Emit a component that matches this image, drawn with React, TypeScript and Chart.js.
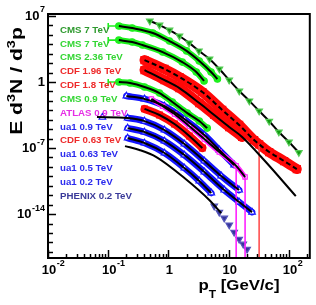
import React, { useEffect, useRef } from "react";
import { Chart, registerables } from "chart.js";

Chart.register(...registerables);

// ---------- axis ranges & ticks ----------
const xRange = [0.01, 222];
const yRange = [2.2e-19, 1.63e7];
const xLabelExps = [-2, -1, 0, 1, 2];
const yLabelExps = [7, 0, -7, -14];
const yDecadeExps = [-18, -17, -16, -15, -14, -13, -12, -11, -10, -9, -8, -7, -6, -5, -4, -3, -2, -1, 0, 1, 2, 3, 4, 5, 6, 7];
const xDecadeExps = [-2, -1, 0, 1, 2];

// ---------- legend ----------
const legendNames = [
  "CMS 7 TeV", "CMS 7 TeV", "CMS 2.36 TeV", "CDF 1.96 TeV", "CDF 1.8 TeV", "CMS 0.9 TeV",
  "ATLAS 0.9 TeV", "ua1 0.9 TeV", "CDF 0.63 TeV", "ua1 0.63 TeV", "ua1 0.5 TeV", "ua1 0.2 TeV", "PHENIX 0.2 TeV",
];
const legendColors = [
  "#2f9a2f", "#33d633", "#33d633", "#ee2a2a", "#ee2a2a", "#33d633",
  "#e62ee6", "#2a2aee", "#ee2a2a", "#2a2aee", "#2a2aee", "#2a2aee", "#3a3a9a",
];

// ---------- data (pT in GeV/c, E d3N/d3p) ----------
const cms7hiPt = [0.49, 0.71, 1.04, 1.52, 2.2, 3.2, 4.8, 7.0, 10.2, 15, 22, 32, 47, 68, 100, 146];
const cms7hiVal = [3e6, 1.1e6, 3.2e5, 7.6e4, 1.4e4, 2e3, 2.8e2, 24, 1.6, 0.11, 1e-2, 8.5e-4, 7e-5, 5e-6, 4.4e-7, 3.4e-8];

const cms7Pt = [0.15, 0.25, 0.55, 1.04, 2.0, 3.25, 5.1, 6.5];
const cms7Val = [8.7e5, 5.3e5, 1.6e5, 2.2e4, 2e3, 1.7e2, 11.5, 2.1];

const cms236Pt = [0.15, 0.25, 0.37, 0.8, 1.7, 2.9, 3.9];
const cms236Val = [2.8e4, 1.75e4, 8.4e3, 1.5e3, 1.3e2, 11.5, 1.3];

const cms09Pt = [0.15, 0.23, 0.4, 0.71, 1.16, 2.06, 3.25, 4.4];
const cms09Val = [1.0, 0.78, 0.3, 0.068, 7.6e-3, 5.1e-4, 7.3e-5, 1.3e-5];

const cmsBinLow = 0.1;
const cmsBinHigh = 0.2;

const cdf196Pt = [0.4, 0.86, 1.52, 3.65, 7.8, 14.9, 26.4, 32, 47, 83, 135];
const cdf196Val = [210, 24, 3.4, 8.7e-2, 1.1e-3, 2.8e-5, 7e-7, 2.5e-7, 3.8e-8, 4.2e-9, 5.9e-10];
const cdf196OpenPt = 32;

const cdf18Pt = [0.4, 0.86, 1.52, 3.25, 5.75, 10.2, 16.7];
const cdf18Val = [18.6, 1.6, 0.23, 5.9e-3, 3.2e-4, 1.7e-5, 1.5e-6];
const cdf18FitPt = [0.4, 0.86, 1.52, 3.25, 5.75, 10.2, 16.7, 38.6, 130];
const cdf18FitVal = [18.6, 1.6, 0.23, 5.9e-3, 3.2e-4, 1.7e-5, 1.5e-6, 5.4e-9, 8e-13];

const atlasPt = [0.52, 0.8, 1.26, 2.22, 3.94, 6.97, 13.3, 18.7];
const atlasVal = [1.6e-2, 2.8e-3, 4.1e-4, 2.1e-5, 9e-7, 3.8e-8, 1.3e-9, 8.5e-11];
const atlasOpenPt = [13.3, 18.7];

const ua109Pt = [0.2, 0.4, 0.86, 1.84, 3.94, 6.97, 12.3];
const ua109Val = [3.3e-2, 1.6e-2, 2.8e-3, 1.2e-4, 2.4e-6, 6.2e-8, 1.6e-9];

const cdf063Pt = [0.4, 0.71, 1.26, 2.22, 3.65];
const cdf063Val = [1.4e-3, 3.2e-4, 3.5e-5, 1.9e-6, 1e-7];

const ua1063Pt = [0.08, 0.21, 0.4, 0.86, 1.84, 3.94, 7.5, 14.9];
const ua1063Val = [1.8e-4, 1.5e-4, 7.2e-5, 8.1e-6, 2.7e-7, 4.2e-9, 1.1e-10, 3.5e-12];
const ua1063FitPt = [0.065, 0.21, 0.4, 0.86, 1.84, 3.94, 7.5, 14.9];
const ua1063FitVal = [1.9e-4, 1.5e-4, 7.2e-5, 8.1e-6, 2.7e-7, 4.2e-9, 1.1e-10, 3.5e-12];

const ua105Pt = [0.21, 0.4, 0.86, 1.84, 3.94, 8.43, 14.9, 24.4];
const ua105Val = [1.3e-5, 5e-6, 5.5e-7, 1.8e-8, 2.9e-10, 3.5e-12, 1.9e-13, 1.6e-14];

const ua102Pt = [0.21, 0.4, 0.86, 1.84, 3.25, 5.14];
const ua102Val = [1.15e-6, 3.4e-7, 3e-8, 7.6e-10, 3.2e-11, 1.7e-12];

const phenixFitPt = [0.19, 0.33, 0.63, 1.84, 4.76, 7.5];
const phenixFitVal = [1.6e-7, 6.2e-8, 1.1e-8, 6.6e-11, 3.1e-13, 1.3e-14];
const phenixPt = [5.75, 6.97, 8.43, 10.2, 12.3, 14.9, 17.4, 20.2];
const phenixVal = [7e-14, 1.6e-14, 3.8e-15, 6.9e-16, 1.2e-16, 2.2e-17, 6.6e-18, 1.9e-18];

// ---------- styling ----------
const FONT = '"Liberation Sans", Arial, Helvetica, sans-serif';
const GREEN = "#1ef01e";
const DKGREEN = "#119911";
const RED = "#ff0808";
const MAGENTA = "#ff22ff";
const BLUE = "#1414ff";
const NAVY = "#35359a";

const P = (xs: number[], ys: number[]) => xs.map((x, i) => ({ x, y: ys[i] }));
const valAt = (xs: number[], ys: number[], x: number) => ys[xs.indexOf(x)];

function bandDs(xs: number[], ys: number[], color: string, width: number, style: string, radius: number, filled: boolean, extra: any = {}) {
  return {
    data: P(xs, ys),
    borderColor: color,
    borderWidth: width,
    borderCapStyle: "round",
    borderJoinStyle: "round",
    pointStyle: style,
    pointRadius: radius,
    pointBackgroundColor: filled ? color : "#ffffff",
    pointBorderColor: color,
    pointBorderWidth: 1.2,
    cubicInterpolationMode: "monotone",
    order: 3,
    ...extra,
  };
}
function fitDs(xs: number[], ys: number[], dash: number[] = []) {
  return {
    data: P(xs, ys),
    borderColor: "#000",
    borderWidth: 2,
    borderDash: dash,
    pointRadius: 0,
    cubicInterpolationMode: "monotone",
    order: 1,
  };
}
function vBarDs(x: number, top: number, color: string) {
  return {
    data: [{ x, y: top }, { x, y: yRange[0] / 10 }],
    borderColor: color,
    borderWidth: 1.6,
    pointRadius: 0,
    order: 2,
  };
}
function hBarDs(x0: number, x1: number, y: number, color: string) {
  return {
    data: [{ x: x0, y }, { x: x1, y }],
    borderColor: color,
    borderWidth: 1.6,
    pointStyle: "line",
    pointRotation: 90,
    pointRadius: [3, 0],
    pointBorderColor: color,
    pointBorderWidth: 1.6,
    order: 2,
  };
}

function buildDatasets() {
  return [
    // fits (drawn on top)
    fitDs(cms7hiPt, cms7hiVal),
    fitDs(cms7Pt, cms7Val),
    fitDs(cms236Pt, cms236Val),
    fitDs(cms09Pt, cms09Val),
    fitDs(cdf196Pt, cdf196Val, [5, 3]),
    fitDs(cdf18FitPt, cdf18FitVal),
    fitDs(atlasPt, atlasVal),
    fitDs(ua109Pt, ua109Val),
    fitDs(cdf063Pt, cdf063Val),
    fitDs(ua1063FitPt, ua1063FitVal),
    fitDs(ua105Pt, ua105Val),
    fitDs(ua102Pt, ua102Val),
    fitDs(phenixFitPt, phenixFitVal),
    // error bars
    hBarDs(cmsBinLow, cmsBinHigh, cms7Val[0], GREEN),
    hBarDs(cmsBinLow, cmsBinHigh, cms236Val[0], GREEN),
    hBarDs(cmsBinLow, cmsBinHigh, cms09Val[0], GREEN),
    vBarDs(cdf196OpenPt, valAt(cdf196Pt, cdf196Val, cdf196OpenPt), "#ff5050"),
    vBarDs(atlasOpenPt[0], valAt(atlasPt, atlasVal, atlasOpenPt[0]), MAGENTA),
    vBarDs(atlasOpenPt[1], valAt(atlasPt, atlasVal, atlasOpenPt[1]), MAGENTA),
    // markers / bands
    { ...bandDs(cms7hiPt, cms7hiVal, DKGREEN, 0, "triangle", 3.8, true), showLine: false, pointRotation: 180, pointBorderColor: "#55cc55", order: 0 },
    bandDs(cms7Pt, cms7Val, GREEN, 6, "circle", 3.2, true),
    bandDs(cms236Pt, cms236Val, GREEN, 6, "circle", 3.2, true),
    bandDs(cdf196Pt, cdf196Val, RED, 10, "rect", 5, true),
    bandDs(cdf18Pt, cdf18Val, RED, 10, "rect", 5, true),
    bandDs(cms09Pt, cms09Val, GREEN, 6, "circle", 3.2, true),
    bandDs(atlasPt, atlasVal, MAGENTA, 5, "rect", 3, false),
    bandDs(ua109Pt, ua109Val, BLUE, 6.5, "triangle", 3.8, false),
    bandDs(cdf063Pt, cdf063Val, RED, 8, "rect", 4, true),
    bandDs(ua1063Pt, ua1063Val, BLUE, 6.5, "triangle", 3.8, false, {
      segment: { borderColor: (c: any) => (c.p0DataIndex === 0 ? "rgba(0,0,0,0)" : BLUE) },
    }),
    bandDs(ua105Pt, ua105Val, BLUE, 6.5, "triangle", 3.8, false),
    bandDs(ua102Pt, ua102Val, BLUE, 6.5, "triangle", 3.8, false),
    { ...bandDs(phenixPt, phenixVal, NAVY, 0, "triangle", 3.8, true), showLine: false, pointRotation: 180, pointBorderColor: "#5555bb" },
  ];
}

// ---------- text helpers ----------
type Part = { t: string; s?: "sup" | "sub" };
function drawRich(ctx: CanvasRenderingContext2D, parts: Part[], size: number, sx: number) {
  const fontFor = (p: Part) => `bold ${p.s ? Math.round(size * 0.68) : size}px ${FONT}`;
  let total = 0;
  const widths = parts.map((p) => {
    ctx.font = fontFor(p);
    const w = ctx.measureText(p.t).width;
    total += w;
    return w;
  });
  ctx.save();
  ctx.scale(sx, 1);
  let x = -total / 2;
  ctx.textAlign = "left";
  ctx.textBaseline = "alphabetic";
  parts.forEach((p, i) => {
    ctx.font = fontFor(p);
    const dy = p.s === "sup" ? -size * 0.42 : p.s === "sub" ? size * 0.6 : 0;
    ctx.fillText(p.t, x, dy);
    x += widths[i];
  });
  ctx.restore();
}

function powLabel(e: number) {
  if (e === 0) return { base: "1", exp: "" };
  if (e === 1) return { base: "10", exp: "" };
  return { base: "10", exp: String(e) };
}

const overlay = {
  id: "overlay",
  afterDraw(chart: any) {
    const { ctx, chartArea: a, scales } = chart;
    const xs = scales.x;
    const ys = scales.y;
    ctx.save();
    ctx.strokeStyle = "#000";
    ctx.fillStyle = "#000";

    // y ticks (inside)
    ctx.lineWidth = 1.5;
    yDecadeExps.forEach((e) => {
      const py = Math.round(ys.getPixelForValue(Math.pow(10, e))) + 0.5;
      const len = yLabelExps.includes(e) ? 8 : 5;
      ctx.beginPath();
      ctx.moveTo(a.left, py);
      ctx.lineTo(a.left + len, py);
      ctx.stroke();
    });
    // x ticks (inside)
    xDecadeExps.forEach((e) => {
      for (let m = 1; m <= 9; m++) {
        const v = m * Math.pow(10, e);
        if (v > xRange[1]) break;
        const px = Math.round(xs.getPixelForValue(v)) + 0.5;
        const len = m === 1 ? 8 : 4;
        ctx.beginPath();
        ctx.moveTo(px, a.bottom);
        ctx.lineTo(px, a.bottom - len);
        ctx.stroke();
      }
    });

    // frame
    ctx.lineWidth = 2;
    ctx.strokeRect(a.left, a.top, a.right - a.left, a.bottom - a.top);

    // y tick labels
    ctx.textBaseline = "middle";
    ctx.textAlign = "left";
    yLabelExps.forEach((e) => {
      const { base, exp } = powLabel(e);
      const py = ys.getPixelForValue(Math.pow(10, e));
      ctx.font = `bold 13px ${FONT}`;
      const bw = ctx.measureText(base).width;
      ctx.font = `bold 9px ${FONT}`;
      const ew = exp ? ctx.measureText(exp).width + 0.5 : 0;
      const x0 = a.left - 3 - bw - ew;
      ctx.font = `bold 13px ${FONT}`;
      ctx.fillText(base, x0, py);
      if (exp) {
        ctx.font = `bold 9px ${FONT}`;
        ctx.fillText(exp, x0 + bw + 0.5, py - 6);
      }
    });
    // x tick labels
    xLabelExps.forEach((e) => {
      const { base, exp } = powLabel(e);
      const px = xs.getPixelForValue(Math.pow(10, e));
      ctx.font = `bold 13px ${FONT}`;
      const bw = ctx.measureText(base).width;
      const x0 = px - bw / 2 + 1;
      ctx.fillText(base, x0, a.bottom + 12);
      if (exp) {
        ctx.font = `bold 9px ${FONT}`;
        ctx.fillText(exp, x0 + bw + 0.5, a.bottom + 6);
      }
    });

    // axis titles
    ctx.save();
    ctx.translate(239, 290);
    drawRich(ctx, [{ t: "p" }, { t: "T", s: "sub" }, { t: " [GeV/c]" }], 14, 1.2);
    ctx.restore();

    ctx.save();
    ctx.translate(22, 81);
    ctx.rotate(-Math.PI / 2);
    drawRich(ctx, [{ t: "E d" }, { t: "3", s: "sup" }, { t: "N / d" }, { t: "3", s: "sup" }, { t: "p" }], 16, 1.32);
    ctx.restore();

    // legend text
    ctx.font = `bold 9.7px ${FONT}`;
    ctx.textAlign = "left";
    ctx.textBaseline = "middle";
    legendNames.forEach((name, i) => {
      ctx.fillStyle = legendColors[i];
      ctx.fillText(name, 60, 30 + i * 13.85);
    });
    ctx.restore();
  },
};

export default function App() {
  const ref = useRef<HTMLCanvasElement | null>(null);
  useEffect(() => {
    if (!ref.current) return;
    const chart = new Chart(ref.current, {
      type: "line",
      data: { datasets: buildDatasets() as any },
      options: {
        animation: false,
        responsive: true,
        maintainAspectRatio: false,
        devicePixelRatio: 1,
        events: [],
        layout: { padding: { left: 48, top: 14, right: 5, bottom: 47 } },
        plugins: { legend: { display: false }, tooltip: { enabled: false } },
        scales: {
          x: { type: "logarithmic", min: xRange[0], max: xRange[1], display: false },
          y: { type: "logarithmic", min: yRange[0], max: yRange[1], display: false },
        },
      } as any,
      plugins: [overlay],
    });
    return () => chart.destroy();
  }, []);
  return (
    <div style={{ position: "fixed", left: 0, top: 0, width: 316, height: 305, background: "#fff" }}>
      <canvas ref={ref} />
    </div>
  );
}
